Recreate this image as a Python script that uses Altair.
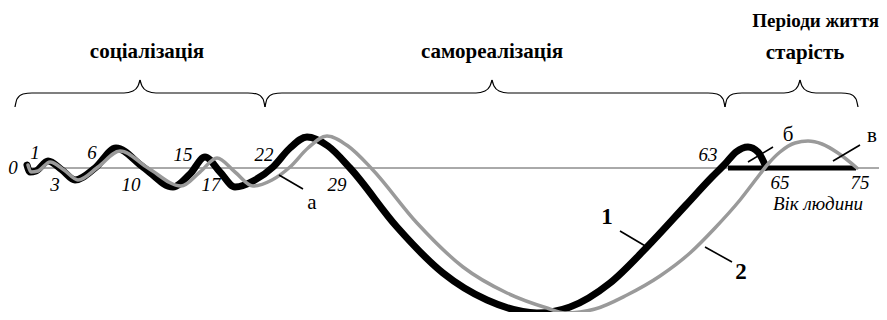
import altair as alt
import pandas as pd

# ---- curve 1 (black, thick) ----
c1_x = [27, 30, 36, 48, 62, 75, 95, 116, 143, 173, 190, 205, 220, 235, 255, 273, 290, 307, 328, 350,
        397, 443, 487, 537, 570, 610, 647, 686, 712, 725, 736, 748, 758, 766]
c1_y = [165, 172, 171, 161, 170, 180, 168, 148, 167, 187, 174, 157, 172, 187, 180, 167, 148, 137, 146, 168,
        227, 273, 300, 313, 307, 283, 247, 205, 177, 164, 152, 147, 152, 167]

# ---- curve 2 (grey, thin) ----
c2_x = [28, 31, 38, 50, 64, 78, 98, 120, 148, 181, 200, 217, 235, 253, 272, 290, 308, 327, 348, 372,
        417, 463, 507, 547, 565, 595, 627, 660, 690, 715, 740, 757, 768, 780, 795, 808, 822, 838, 857]
c2_y = [165, 172, 171, 162, 170, 180, 167, 151, 168, 186, 172, 158, 172, 186, 180, 167, 148, 136, 146, 169,
        223, 267, 293, 308, 313, 309, 295, 276, 253, 228, 200, 178, 164, 152, 143, 141, 144, 153, 168]

# ---- braces (each half separately) ----
brace_halves = [
    [(15, 107), (17, 99), (23, 94), (32, 93), (124, 93), (133, 91), (138, 86), (140, 80)],
    [(140, 80), (142, 86), (147, 91), (156, 93), (248, 93), (257, 94), (263, 99), (265, 107)],
    [(265, 107), (267, 99), (273, 94), (282, 93), (476, 93), (485, 91), (490, 86), (492, 80)],
    [(492, 80), (494, 86), (499, 91), (508, 93), (708, 93), (717, 94), (723, 99), (725, 107)],
    [(725, 107), (727, 99), (733, 94), (742, 93), (784, 93), (793, 91), (798, 86), (800, 80)],
    [(800, 80), (802, 86), (807, 91), (816, 93), (841, 93), (850, 94), (856, 99), (858, 107)],
]

# ---- axis line and flat segment ----
axis_seg = [(25, 168, 879, 168)]
flat_seg = [(728, 168, 856, 168)]

# ---- leader lines ----
leaders = [(279, 175, 303, 189), (748, 162, 773, 147), (833, 161, 860, 145),
           (620, 231, 647, 247), (705, 247, 732, 262)]

# ---- age tick labels (italic) ----
age_text = ["0", "1", "3", "6", "10", "15", "17", "22", "29", "63", "65", "75", "Вік людини"]
age_x = [13, 35, 55, 92, 131, 183, 211, 264, 337, 708, 780, 860, 818]
age_y = [168, 153, 185, 153, 185, 155, 185, 155, 185, 155, 183, 183, 204]

# ---- letter labels ----
let_text = ["а", "б", "в"]
let_x = [312, 788, 872]
let_y = [203, 135, 136]

# ---- curve numbers ----
num_text = ["1", "2"]
num_x = [607, 741]
num_y = [217, 272]

# ---- period titles ----
title_text = ["соціалізація", "самореалізація", "старість"]
title_x = [147, 492, 805]
title_y = [52, 52, 53]
header_text = "Періоди життя"

XS = alt.Scale(domain=[8, 879])
YS = alt.Scale(domain=[8, 312], reverse=True)


def X(f="x"):
    return alt.X(f"{f}:Q", scale=XS, axis=None)


def Y(f="y"):
    return alt.Y(f"{f}:Q", scale=YS, axis=None)


c1 = pd.DataFrame({"x": c1_x, "y": c1_y, "i": range(len(c1_x))})
c2 = pd.DataFrame({"x": c2_x, "y": c2_y, "i": range(len(c2_x))})
br = pd.DataFrame([{"x": p[0], "y": p[1], "g": k, "i": j}
                   for k, h in enumerate(brace_halves) for j, p in enumerate(h)])
segs = lambda s: pd.DataFrame(s, columns=["x", "y", "x2", "y2"])

font = "Liberation Serif"

axis_layer = alt.Chart(segs(axis_seg)).mark_rule(color="#555", strokeWidth=1).encode(
    x=X(), y=Y(), x2="x2:Q", y2="y2:Q")
flat_layer = alt.Chart(segs(flat_seg)).mark_rule(color="black", strokeWidth=5).encode(
    x=X(), y=Y(), x2="x2:Q", y2="y2:Q")
lead_layer = alt.Chart(segs(leaders)).mark_rule(color="black", strokeWidth=1.6).encode(
    x=X(), y=Y(), x2="x2:Q", y2="y2:Q")

line1 = alt.Chart(c1).mark_line(color="black", strokeWidth=7, interpolate="monotone",
                                strokeCap="round", strokeJoin="round").encode(
    x=X(), y=Y(), order="i:Q")
line2 = alt.Chart(c2).mark_line(color="#9a9a9a", strokeWidth=3.5, interpolate="monotone",
                                strokeCap="round", strokeJoin="round").encode(
    x=X(), y=Y(), order="i:Q")
brace_layer = alt.Chart(br).mark_line(color="black", strokeWidth=1.2, interpolate="monotone").encode(
    x=X(), y=Y(), detail="g:N", order="i:Q")

age_layer = alt.Chart(pd.DataFrame({"t": age_text, "x": age_x, "y": age_y})).mark_text(
    font=font, fontSize=19, fontStyle="italic", align="center", baseline="middle", color="black").encode(
    x=X(), y=Y(), text="t:N")
let_layer = alt.Chart(pd.DataFrame({"t": let_text, "x": let_x, "y": let_y})).mark_text(
    font=font, fontSize=21, align="center", baseline="middle", color="black").encode(
    x=X(), y=Y(), text="t:N")
num_layer = alt.Chart(pd.DataFrame({"t": num_text, "x": num_x, "y": num_y})).mark_text(
    font=font, fontSize=23, fontWeight="bold", align="center", baseline="middle", color="black").encode(
    x=X(), y=Y(), text="t:N")
title_layer = alt.Chart(pd.DataFrame({"t": title_text, "x": title_x, "y": title_y})).mark_text(
    font=font, fontSize=21, fontWeight="bold", align="center", baseline="middle", color="black").encode(
    x=X(), y=Y(), text="t:N")
header_layer = alt.Chart(pd.DataFrame({"t": [header_text], "x": [879], "y": [21]})).mark_text(
    font=font, fontSize=19, fontWeight="bold", align="right", baseline="middle", color="black").encode(
    x=X(), y=Y(), text="t:N")

chart = alt.layer(
    axis_layer, brace_layer, line1, flat_layer, line2, lead_layer,
    age_layer, let_layer, num_layer, title_layer, header_layer
).properties(
    width=871, height=304, padding=0,
    autosize=alt.AutoSizeParams(type="none"),
).configure_view(stroke=None)

chart.save("out.html", embed_options={"renderer": "svg", "actions": False})
